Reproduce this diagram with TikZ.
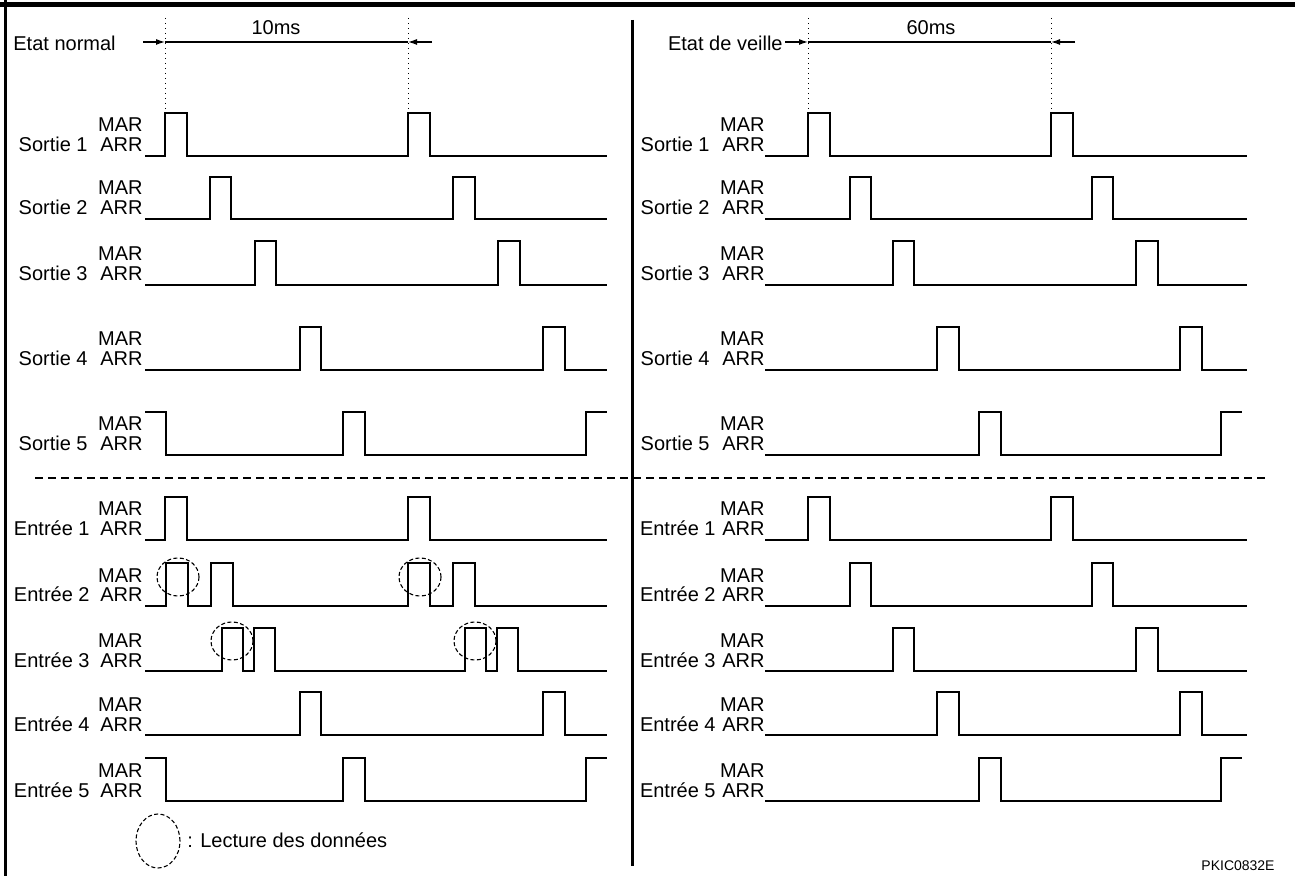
\documentclass[tikz,border=0pt]{standalone}
\usepackage{fontspec}
\setmainfont{Liberation Sans}
\usepackage{tikz}
\usetikzlibrary{arrows.meta, shapes.geometric}

\tikzset{
  wave/.style={line width=0.75pt},
  txt/.style={font=\fontsize{10}{10}\selectfont, inner sep=0pt},
  lbl/.style={txt, anchor=base east},
  lecture/.style={draw, ellipse, dash pattern=on 2pt off 1.2pt, line width=0.55pt, inner sep=0pt, minimum width=21pt, minimum height=19pt},
  cote/.style={line width=0.6pt},
  fleche/.style={-{Latex[length=4.5pt,width=3pt]}, line width=0.6pt},
  repere/.style={dotted, line width=0.5pt}
}

\begin{document}
\begin{tikzpicture}[x=0.5pt, y=-0.5pt]
  \useasboundingbox (0,0) rectangle (1295,876);
  % Cadre
  \draw[line width=2.25pt] (0,4.5) -- (1295,4.5);
  \draw[line width=1.75pt] (5.5,0) -- (5.5,876);
  \draw[line width=1.5pt] (632,20) -- (632,866);
  \draw[line width=1.1pt, dash pattern=on 4pt off 2.5pt] (35,478) -- (1265,478);

  % Cotes
  \node[txt, anchor=west] (normal) at (13,43) {Etat normal};
  \node[txt] (t10) at (276,28) {10ms};
  \coordinate (na) at (143,42);
  \coordinate (nb) at (165,42);
  \coordinate (nc) at (408,42);
  \coordinate (nd) at (432,42);
  \draw[fleche] (na) -- (nb);
  \draw[cote] (nb) -- (nc);
  \draw[fleche] (nd) -- (nc);
  \draw[repere] (165,18) -- (165,113);
  \draw[repere] (408,18) -- (408,113);

  \node[txt, anchor=east] (veille) at (783,43) {Etat de veille};
  \node[txt] (t60) at (931,28) {60ms};
  \coordinate (va) at (785,42);
  \coordinate (vb) at (808,42);
  \coordinate (vc) at (1051,42);
  \coordinate (vd) at (1075,42);
  \draw[fleche] (va) -- (vb);
  \draw[cote] (vb) -- (vc);
  \draw[fleche] (vd) -- (vc);
  \draw[repere] (808,18) -- (808,113);
  \draw[repere] (1051,18) -- (1051,113);

  % Etiquettes gauche
  \node[lbl] (s1) at (88,152) {Sortie 1};
  \node[lbl] (s1m) at (143,132) {MAR};
  \node[lbl] (s1a) at (143,152) {ARR};
  \node[lbl] (s2) at (88,215) {Sortie 2};
  \node[lbl] (s2m) at (143,195) {MAR};
  \node[lbl] (s2a) at (143,215) {ARR};
  \node[lbl] (s3) at (88,281) {Sortie 3};
  \node[lbl] (s3m) at (143,261) {MAR};
  \node[lbl] (s3a) at (143,281) {ARR};
  \node[lbl] (s4) at (88,366) {Sortie 4};
  \node[lbl] (s4m) at (143,346) {MAR};
  \node[lbl] (s4a) at (143,366) {ARR};
  \node[lbl] (s5) at (88,451) {Sortie 5};
  \node[lbl] (s5m) at (143,431) {MAR};
  \node[lbl] (s5a) at (143,451) {ARR};
  \node[lbl] (e1) at (90,536) {Entrée 1};
  \node[lbl] (e1m) at (143,516) {MAR};
  \node[lbl] (e1a) at (143,536) {ARR};
  \node[lbl] (e2) at (90,602) {Entrée 2};
  \node[lbl] (e2m) at (143,582) {MAR};
  \node[lbl] (e2a) at (143,602) {ARR};
  \node[lbl] (e3) at (90,667) {Entrée 3};
  \node[lbl] (e3m) at (143,647) {MAR};
  \node[lbl] (e3a) at (143,667) {ARR};
  \node[lbl] (e4) at (90,731) {Entrée 4};
  \node[lbl] (e4m) at (143,711) {MAR};
  \node[lbl] (e4a) at (143,731) {ARR};
  \node[lbl] (e5) at (90,797) {Entrée 5};
  \node[lbl] (e5m) at (143,777) {MAR};
  \node[lbl] (e5a) at (143,797) {ARR};

  % Etiquettes droite
  \node[lbl] (vs1) at (710,152) {Sortie 1};
  \node[lbl] (vs1m) at (765,132) {MAR};
  \node[lbl] (vs1a) at (765,152) {ARR};
  \node[lbl] (vs2) at (710,215) {Sortie 2};
  \node[lbl] (vs2m) at (765,195) {MAR};
  \node[lbl] (vs2a) at (765,215) {ARR};
  \node[lbl] (vs3) at (710,281) {Sortie 3};
  \node[lbl] (vs3m) at (765,261) {MAR};
  \node[lbl] (vs3a) at (765,281) {ARR};
  \node[lbl] (vs4) at (710,366) {Sortie 4};
  \node[lbl] (vs4m) at (765,346) {MAR};
  \node[lbl] (vs4a) at (765,366) {ARR};
  \node[lbl] (vs5) at (710,451) {Sortie 5};
  \node[lbl] (vs5m) at (765,431) {MAR};
  \node[lbl] (vs5a) at (765,451) {ARR};
  \node[lbl] (ve1) at (716,536) {Entrée 1};
  \node[lbl] (ve1m) at (765,516) {MAR};
  \node[lbl] (ve1a) at (765,536) {ARR};
  \node[lbl] (ve2) at (716,602) {Entrée 2};
  \node[lbl] (ve2m) at (765,582) {MAR};
  \node[lbl] (ve2a) at (765,602) {ARR};
  \node[lbl] (ve3) at (716,667) {Entrée 3};
  \node[lbl] (ve3m) at (765,647) {MAR};
  \node[lbl] (ve3a) at (765,667) {ARR};
  \node[lbl] (ve4) at (716,731) {Entrée 4};
  \node[lbl] (ve4m) at (765,711) {MAR};
  \node[lbl] (ve4a) at (765,731) {ARR};
  \node[lbl] (ve5) at (716,797) {Entrée 5};
  \node[lbl] (ve5m) at (765,777) {MAR};
  \node[lbl] (ve5a) at (765,797) {ARR};

  % Signaux, etat normal
  \draw[wave] (145,156) -| (165,113) -| (187,156) -| (408,113) -| (430,156) -- (607,156);
  \draw[wave] (145,219) -| (210,177) -| (231,219) -| (453,177) -| (475,219) -- (607,219);
  \draw[wave] (145,285) -| (255,241) -| (276,285) -| (498,241) -| (520,285) -- (607,285);
  \draw[wave] (145,370) -| (300,327) -| (321,370) -| (543,327) -| (565,370) -- (607,370);
  \draw[wave] (145,412) -| (166,455) -| (343,412) -| (365,455) -| (586,412) -- (607,412);
  \draw[wave] (145,540) -| (165,497) -| (187,540) -| (408,497) -| (430,540) -- (607,540);
  \draw[wave] (145,606) -| (166,563) -| (188,606) -| (211,563) -| (233,606) -| (408,563) -| (430,606) -| (453,563) -| (475,606) -- (607,606);
  \draw[wave] (145,671) -| (222,628) -| (243,671) -| (254,628) -| (275,671) -| (465,628) -| (486,671) -| (497,628) -| (518,671) -- (607,671);
  \draw[wave] (145,735) -| (300,692) -| (321,735) -| (543,692) -| (565,735) -- (607,735);
  \draw[wave] (145,758) -| (166,801) -| (343,758) -| (365,801) -| (586,758) -- (607,758);

  % Signaux, etat de veille
  \draw[wave] (765,156) -| (808,113) -| (830,156) -| (1051,113) -| (1073,156) -- (1247,156);
  \draw[wave] (765,219) -| (850,177) -| (871,219) -| (1092,177) -| (1113,219) -- (1247,219);
  \draw[wave] (765,285) -| (893,241) -| (914,285) -| (1136,241) -| (1158,285) -- (1247,285);
  \draw[wave] (765,370) -| (937,327) -| (959,370) -| (1180,327) -| (1202,370) -- (1247,370);
  \draw[wave] (765,455) -| (979,412) -| (1001,455) -| (1221,412) -- (1242,412);
  \draw[wave] (765,540) -| (808,497) -| (830,540) -| (1051,497) -| (1073,540) -- (1247,540);
  \draw[wave] (765,606) -| (850,563) -| (871,606) -| (1092,563) -| (1113,606) -- (1247,606);
  \draw[wave] (765,671) -| (893,628) -| (914,671) -| (1136,628) -| (1158,671) -- (1247,671);
  \draw[wave] (765,735) -| (937,692) -| (959,735) -| (1180,692) -| (1202,735) -- (1247,735);
  \draw[wave] (765,801) -| (979,758) -| (1001,801) -| (1221,758) -- (1242,758);

  % Lecture des donnees
  \node[lecture] (l1) at (178,577) {};
  \node[lecture] (l2) at (420,577) {};
  \node[lecture] (l3) at (232,641) {};
  \node[lecture] (l4) at (475,641) {};
  \node[lecture, minimum width=22pt, minimum height=27pt] (leg) at (158,841) {};
  \node[txt, anchor=west] (legtxt) at (187,840) {: Lecture des données};

  \node[font=\fontsize{7}{7}\selectfont, inner sep=0pt] (ref) at (1238,866) {PKIC0832E};
\end{tikzpicture}
\end{document}
